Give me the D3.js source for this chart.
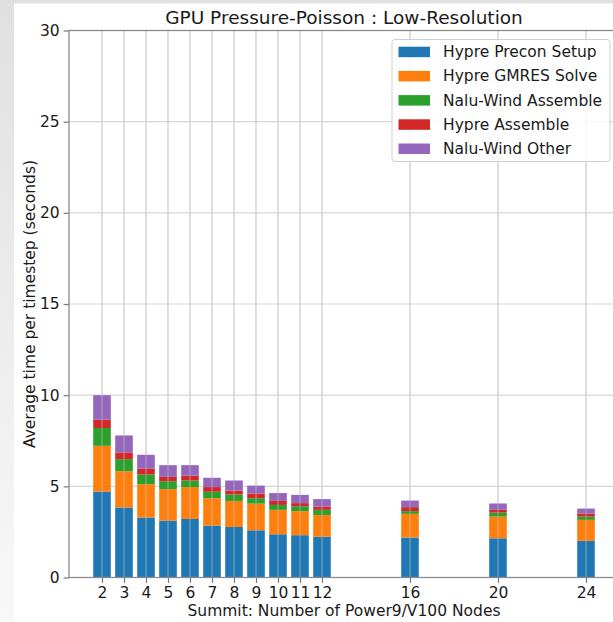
<!DOCTYPE html>
<html>
<head>
<meta charset="utf-8">
<script src="https://cdn.jsdelivr.net/npm/d3@7"></script>
<style>
  body { margin: 0; background: #fff; }
  svg { display: block; font-family: "DejaVu Sans", sans-serif; }
</style>
</head>
<body>
<script>
"use strict";

// node counts on the x axis
var nodes = [2, 3, 4, 5, 6, 7, 8, 9, 10, 11, 12, 16, 20, 24];

// seconds per timestep, one array per stacked component
var preconSetup   = [4.71, 3.84, 3.29, 3.12, 3.21, 2.85, 2.77, 2.59, 2.37, 2.32, 2.24, 2.19, 2.15, 2.01];
var gmresSolve    = [2.51, 1.99, 1.83, 1.73, 1.75, 1.50, 1.43, 1.46, 1.34, 1.32, 1.19, 1.30, 1.19, 1.15];
var naluAssemble  = [0.98, 0.66, 0.53, 0.43, 0.36, 0.35, 0.35, 0.30, 0.27, 0.27, 0.28, 0.15, 0.22, 0.18];
var hypreAssemble = [0.45, 0.37, 0.31, 0.24, 0.27, 0.26, 0.22, 0.25, 0.22, 0.17, 0.18, 0.22, 0.15, 0.17];
var naluOther     = [1.35, 0.93, 0.77, 0.64, 0.57, 0.51, 0.55, 0.44, 0.43, 0.45, 0.41, 0.36, 0.35, 0.27];

var seriesNames = ["Hypre Precon Setup", "Hypre GMRES Solve", "Nalu-Wind Assemble", "Hypre Assemble", "Nalu-Wind Other"];
var seriesColors = ["#1f77b4", "#ff7f0e", "#2ca02c", "#d62728", "#9467bd"];
var yTicks = [0, 5, 10, 15, 20, 25, 30];

var seriesValues = [preconSetup, gmresSolve, naluAssemble, hypreAssemble, naluOther];
var rows = nodes.map(function(n, i) {
  var r = {nodes: n};
  seriesNames.forEach(function(s, k) { r[s] = seriesValues[k][i]; });
  return r;
});

var W = 613, H = 622;
var margin = {top: 30.5, left: 69, bottom: 44.5, right: -6};
var width = W - margin.left - margin.right,
    height = H - margin.top - margin.bottom;

var svg = d3.select("body").append("svg")
    .attr("width", W)
    .attr("height", H);

// gray screenshot edge
var defs = svg.append("defs");
var grad = defs.append("linearGradient").attr("id", "edge")
    .attr("x1", 0).attr("y1", 0).attr("x2", 0).attr("y2", 1);
grad.append("stop").attr("offset", "0%").attr("stop-color", "#e0e0e0");
grad.append("stop").attr("offset", "100%").attr("stop-color", "#f8f8f8");
svg.append("rect").attr("width", W).attr("height", H).attr("fill", "url(#edge)");
svg.append("rect").attr("x", 0).attr("y", 0).attr("width", W).attr("height", 3.5).attr("fill", "#e0e0e0");
svg.append("rect").attr("x", 14).attr("y", 3.5).attr("width", W - 14).attr("height", H).attr("fill", "#fff");

var xScale = d3.scaleLinear().domain([0.5, 25.5]).range([0, width]);
var yScale = d3.scaleLinear().domain([0, 30]).range([height, 0]);

var view = svg.append("g")
    .attr("transform", "translate(" + margin.left + "," + margin.top + ")");

// gridlines
view.append("g")
    .selectAll("line").data(nodes).join("line")
    .attr("x1", function(d) { return xScale(d); })
    .attr("x2", function(d) { return xScale(d); })
    .attr("y1", 0).attr("y2", height)
    .attr("stroke", "#d6d6d6").attr("stroke-width", 1.1);
view.append("g")
    .selectAll("line").data(yTicks).join("line")
    .attr("x1", 0).attr("x2", width)
    .attr("y1", function(d) { return yScale(d); })
    .attr("y2", function(d) { return yScale(d); })
    .attr("stroke", "#d6d6d6").attr("stroke-width", 1.1);

// stacked bars
var stacked = d3.stack().keys(seriesNames)(rows);
var barW = xScale(0.8) - xScale(0);

view.append("g")
  .selectAll("g").data(stacked).join("g")
    .attr("fill", function(d, i) { return seriesColors[i]; })
  .selectAll("rect").data(function(d) { return d; }).join("rect")
    .attr("x", function(d) { return xScale(d.data.nodes) - barW / 2; })
    .attr("width", barW)
    .attr("y", function(d) { return yScale(d[1]); })
    .attr("height", function(d) { return yScale(d[0]) - yScale(d[1]); });

// gridlines over bars (matplotlib draws grid above here)
view.append("g")
    .selectAll("line").data(nodes).join("line")
    .attr("x1", function(d) { return xScale(d); })
    .attr("x2", function(d) { return xScale(d); })
    .attr("y1", 0).attr("y2", height)
    .attr("stroke", "#c8c8c8").attr("stroke-opacity", 0.55).attr("stroke-width", 1.1);

// axes
var xAxis = d3.axisBottom(xScale).tickValues(nodes).tickSize(5.4).tickPadding(4).tickFormat(d3.format("d"));
var yAxis = d3.axisLeft(yScale).tickValues(yTicks).tickSize(5.4).tickPadding(4);

var gX = view.append("g")
    .attr("transform", "translate(0," + height + ")")
    .call(xAxis);
var gY = view.append("g").call(yAxis);

[gX, gY].forEach(function(g) {
  g.select(".domain").remove();
  g.selectAll(".tick line").attr("stroke", "#777").attr("stroke-width", 1.2);
  g.selectAll(".tick text")
    .attr("fill", "#1a1a1a")
    .style("font-size", "15.5px")
    .style("font-family", "'DejaVu Sans', sans-serif");
});

// spines
view.append("rect")
    .attr("x", 0).attr("y", 0)
    .attr("width", width).attr("height", height)
    .attr("fill", "none")
    .attr("stroke", "#8a8a8a").attr("stroke-width", 1.3);

// title and axis labels
svg.append("text")
    .attr("x", margin.left + xScale(13))
    .attr("y", 23.5)
    .attr("text-anchor", "middle")
    .attr("fill", "#1a1a1a")
    .style("font-size", "18.5px")
    .text("GPU Pressure-Poisson : Low-Resolution");

svg.append("text")
    .attr("x", margin.left + xScale(13))
    .attr("y", 616)
    .attr("text-anchor", "middle")
    .attr("fill", "#1a1a1a")
    .style("font-size", "15.5px")
    .text("Summit: Number of Power9/V100 Nodes");

svg.append("text")
    .attr("transform", "translate(35," + (margin.top + height / 2) + ") rotate(-90)")
    .attr("text-anchor", "middle")
    .attr("fill", "#1a1a1a")
    .style("font-size", "15.5px")
    .text("Average time per timestep (seconds)");

// legend
var legend = svg.append("g").attr("transform", "translate(392,39.5)");
legend.append("rect")
    .attr("width", 218).attr("height", 122)
    .attr("rx", 3)
    .attr("fill", "#fff").attr("fill-opacity", 0.85)
    .attr("stroke", "#d0d0d0").attr("stroke-width", 1);

var item = legend.selectAll("g.item").data(seriesNames).join("g")
    .attr("class", "item")
    .attr("transform", function(d, i) { return "translate(0," + (12.2 + i * 24.2) + ")"; });
item.append("rect")
    .attr("x", 6.5).attr("y", -5)
    .attr("width", 31.5).attr("height", 10.5)
    .attr("fill", function(d, i) { return seriesColors[i]; });
item.append("text")
    .attr("x", 51)
    .attr("y", 0)
    .attr("dy", "0.36em")
    .attr("fill", "#1a1a1a")
    .style("font-size", "15.5px")
    .text(function(d) { return d; });
</script>
</body>
</html>
